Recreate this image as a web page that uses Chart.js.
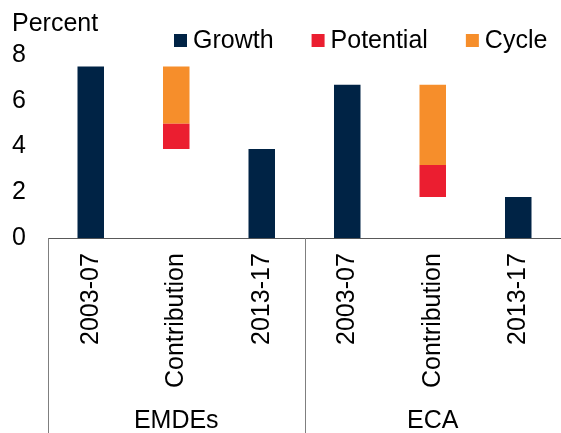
<!DOCTYPE html>
<html>
<head>
<meta charset="utf-8">
<script src="https://cdn.jsdelivr.net/npm/chart.js@4.4.1/dist/chart.umd.min.js"></script>
<style>
  html, body { margin: 0; padding: 0; background: #fff; }
  #wrap { width: 561px; height: 433px; position: relative; }
</style>
</head>
<body>
<div id="wrap"><canvas id="myChart"></canvas></div>
<script>
const categories = ['2003-07', 'Contribution', '2013-17', '2003-07', 'Contribution', '2013-17'];
const groups = ['EMDEs', 'ECA'];
const growth = [7.5, null, 3.9, 6.7, null, 1.8];
const potential = [null, [3.9, 5.0], null, null, [1.8, 3.2], null];
const cycle = [null, [5.0, 7.5], null, null, [3.2, 6.7], null];
const yMax = 8;
const yStep = 2;

const FONT = "'Liberation Sans', Arial, sans-serif";
const ctx = document.getElementById('myChart');

// legend + "Percent" label drawn on top of the canvas
const topLabels = {
    id: 'topLabels',
    afterDraw(chart) {
        const c = chart.ctx;
        c.save();
        c.font = '25px ' + FONT;
        c.fillStyle = '#000';
        c.textBaseline = 'alphabetic';
        c.fillText('Percent', 12, 31);

        c.textBaseline = 'middle';
        let x = 174;
        chart.data.datasets.forEach(ds => {
            c.fillStyle = ds.backgroundColor;
            c.fillRect(x, 34, 13, 13);
            c.fillStyle = '#000';
            c.fillText(ds.label, x + 19, 41);
            x += 19 + c.measureText(ds.label).width + 38;
        });
        c.restore();
    }
};

// vertical separators under the axis, between the two groups
const groupLines = {
    id: 'groupLines',
    afterDraw(chart) {
        const xs = chart.scales.x;
        const half = (xs.getPixelForValue(1) - xs.getPixelForValue(0)) / 2;
        const c = chart.ctx;
        c.save();
        c.strokeStyle = '#7f7f7f';
        c.lineWidth = 1;
        [0, 3, 6].forEach(i => {
            const px = Math.round(xs.getPixelForValue(i) - half) + 0.5;
            c.beginPath();
            c.moveTo(px, chart.chartArea.bottom);
            c.lineTo(px, chart.height);
            c.stroke();
        });
        c.restore();
    }
};

// no extra side padding for the rotated / group labels
function noSidePadding(scale) {
    scale.paddingLeft = 0;
    scale.paddingRight = 0;
}

new Chart(ctx, {
    type: 'bar',
    data: {
        labels: categories,
        datasets: [
            { label: 'Growth', data: growth, backgroundColor: '#002345' },
            { label: 'Potential', data: potential, backgroundColor: '#EB1E30' },
            { label: 'Cycle', data: cycle, backgroundColor: '#F68E2B' }
        ]
    },
    options: {
        responsive: true,
        maintainAspectRatio: false,
        animation: false,
        layout: { autoPadding: false, padding: { top: 55, left: 12, right: -3, bottom: -6 } },
        datasets: {
            bar: { grouped: false, categoryPercentage: 1, barPercentage: 0.31, borderWidth: 0 }
        },
        plugins: {
            legend: { display: false },
            tooltip: { enabled: false }
        },
        scales: {
            x: {
                afterFit: noSidePadding,
                grid: { display: false, drawTicks: false },
                border: { display: true, color: '#595959', width: 1 },
                ticks: {
                    autoSkip: false,
                    minRotation: 90,
                    maxRotation: 90,
                    padding: 15,
                    color: '#000',
                    font: { family: FONT, size: 25 }
                }
            },
            x2: {
                type: 'category',
                position: 'bottom',
                labels: groups,
                offset: true,
                afterFit: noSidePadding,
                grid: { display: false, drawTicks: false },
                border: { display: false },
                ticks: {
                    padding: 3,
                    color: '#000',
                    font: { family: FONT, size: 25 }
                }
            },
            y: {
                min: 0,
                max: yMax,
                afterFit: scale => { scale.width = 36; },
                grid: { display: false, drawTicks: false },
                border: { display: false },
                ticks: {
                    stepSize: yStep,
                    padding: 22,
                    color: '#000',
                    font: { family: FONT, size: 25 }
                }
            }
        }
    },
    plugins: [topLabels, groupLines]
});
</script>
</body>
</html>
